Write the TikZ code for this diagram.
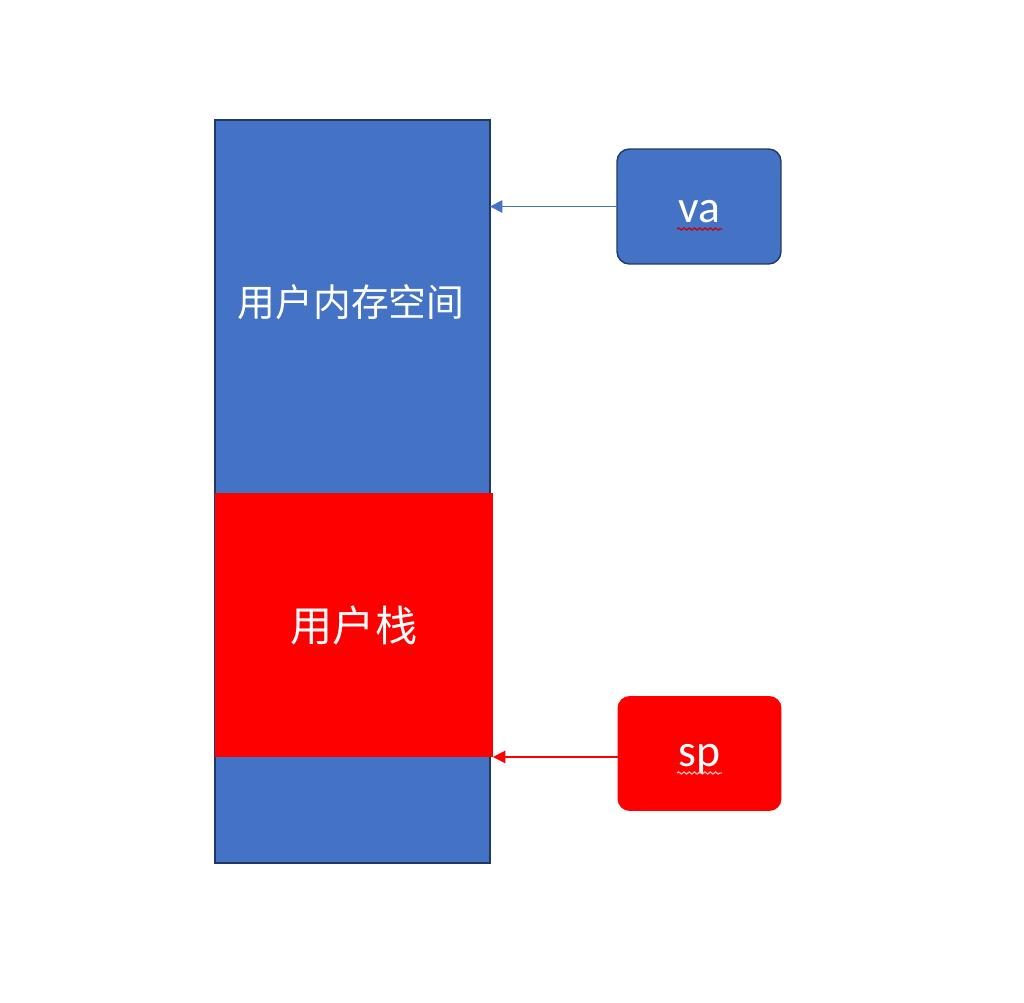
\documentclass[tikz,border=0pt]{standalone}
\usepackage{fontspec}
\setmainfont{Carlito}
\newfontfamily\cjk{Noto Sans CJK SC}
\usepackage{xcolor}
\definecolor{memblue}{RGB}{68,114,196}
\definecolor{navy}{RGB}{31,56,100}
\definecolor{stackred}{RGB}{255,0,0}
\usetikzlibrary{arrows.meta, positioning, decorations.pathmorphing}
\tikzstyle{memblock}=[rectangle, minimum width=5.5cm, minimum height=14.86cm,
  inner sep=0pt, outer sep=0pt, fill=memblue, draw=navy, line width=1.1pt]
\tikzstyle{stackblock}=[rectangle, minimum width=5.56cm, minimum height=5.28cm,
  inner sep=0pt, outer sep=0pt, fill=stackred, text=white, font=\cjk\fontsize{24}{28}\selectfont]
\tikzstyle{regbox}=[rectangle, rounded corners=7pt, minimum width=3.28cm,
  minimum height=2.3cm, inner sep=0pt, outer sep=0pt, text=white,
  font=\fontsize{26}{30}\selectfont]
\tikzstyle{ptrarrow}=[-{Triangle[length=7pt, width=7pt]}, line width=1pt]
\tikzstyle{squiggle}=[decorate, decoration={snake, amplitude=0.6pt, segment length=3pt}, line width=0.7pt]
\newcommand{\lowered}[1]{\raisebox{-3pt}[\height][\depth]{#1}}

\begin{document}
\begin{tikzpicture}[x=0.02cm, y=-0.02cm]
  \useasboundingbox (0,0) rectangle (1024,1003);
  \node[memblock] (mem) at (352.5,491.5) {};
  \node[text=white, font=\cjk\fontsize{21.5}{26}\selectfont] (memtext) at (351,302) {用户内存空间};
  \node[stackblock] (stack) at (354,625) {用户栈};
  \node[regbox, fill=memblue, draw=navy, line width=0.8pt] (va) at (699,206.5) {\lowered{va}};
  \node[regbox, fill=stackred] (sp) at (699.5,753.5) {\lowered{sp}};
  \draw[ptrarrow, color=memblue] (va.west) -- (va.west -| mem.east);
  \draw[ptrarrow, color=stackred] (sp.west |- stack.south east) -- (stack.south east);
  % spell-check underlines
  \draw[squiggle, color=red!80!black] (677,229) -- (722,229);
  \draw[squiggle, color=white!75!red] (677,773) -- (722,773);
\end{tikzpicture}
\end{document}
